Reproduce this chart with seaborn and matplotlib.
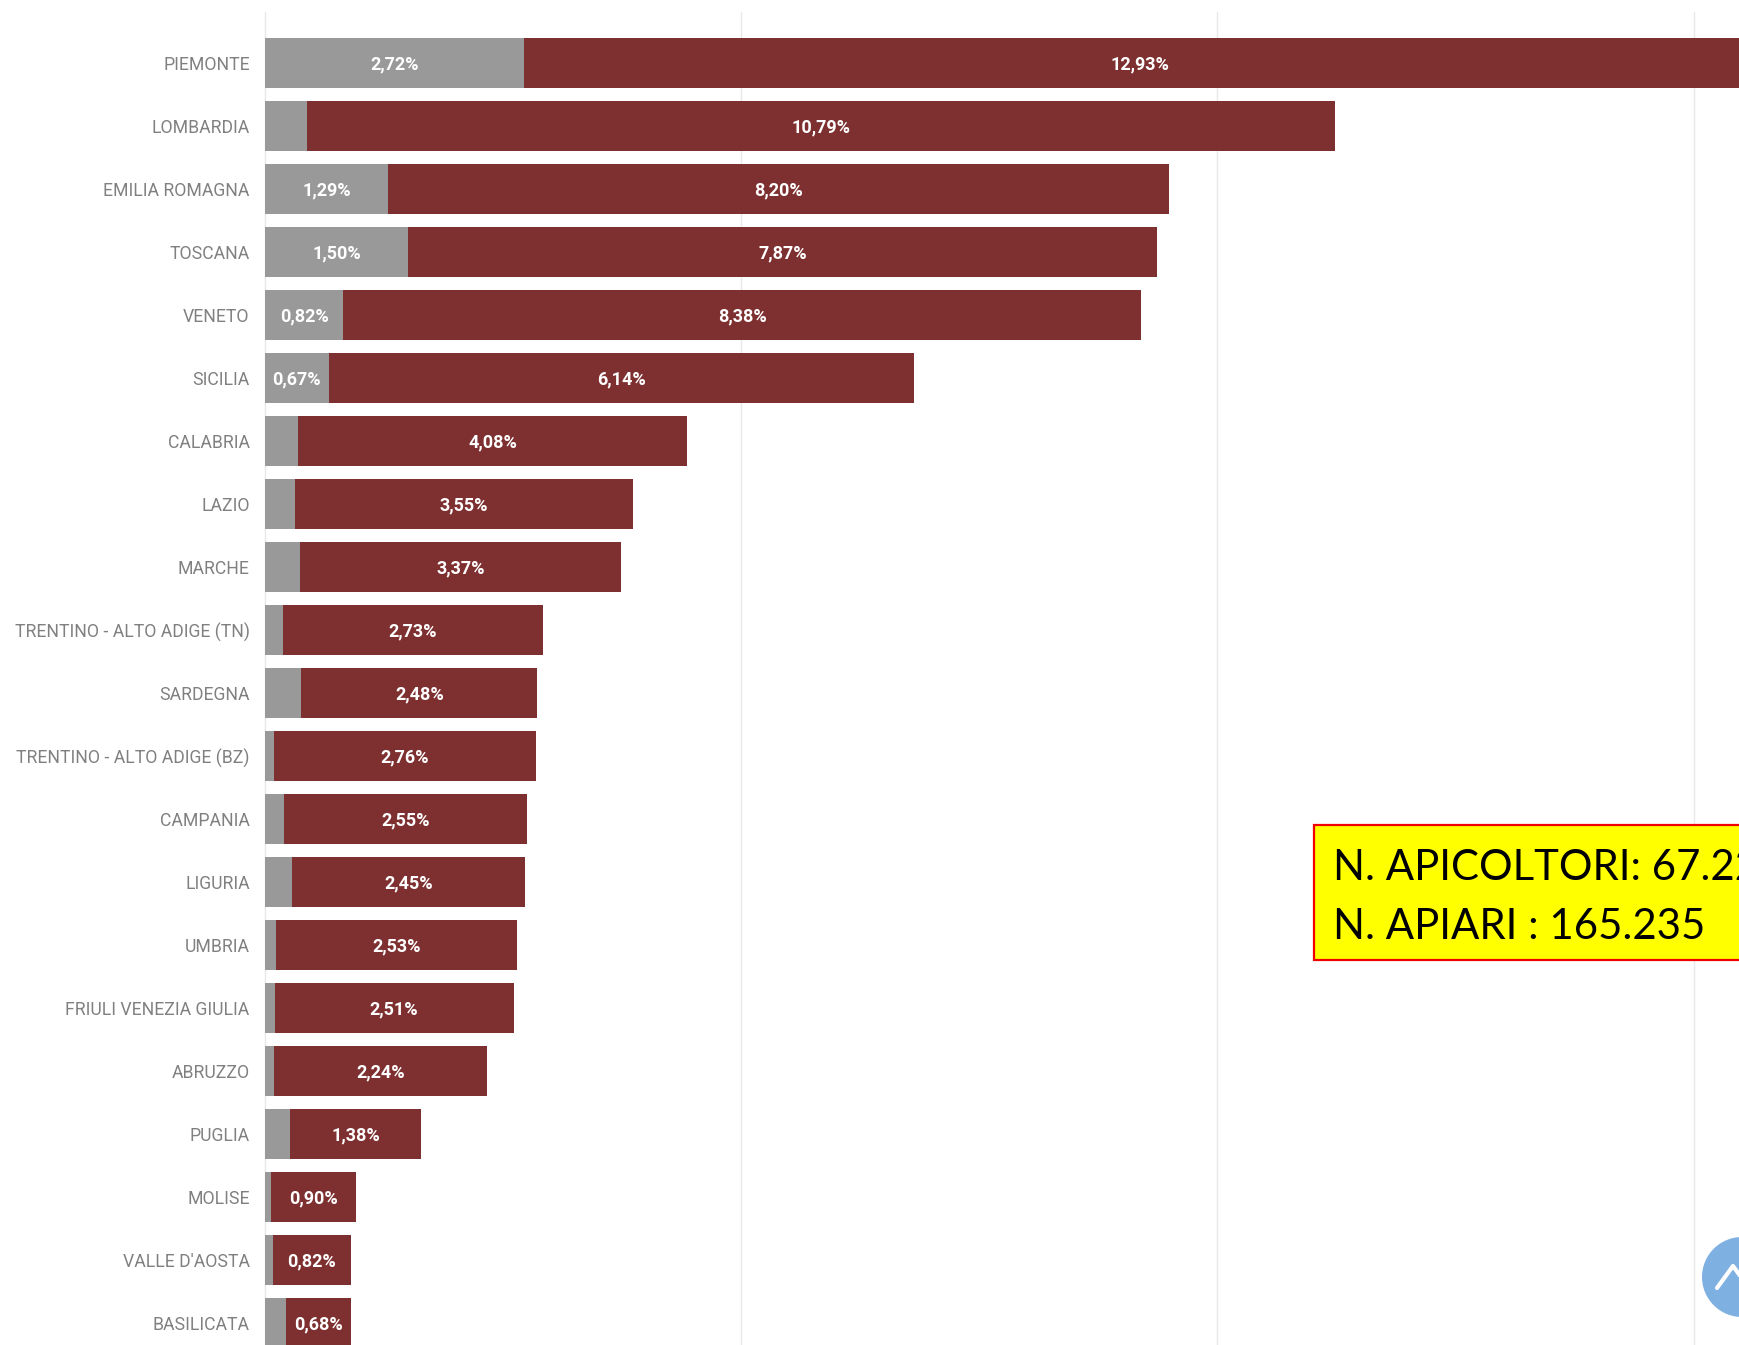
import matplotlib
matplotlib.use("Agg")
import matplotlib.pyplot as plt
from matplotlib.patches import Rectangle, Circle
import pandas as pd
import seaborn as sns

W, H = 1740, 1345

regioni = ["PIEMONTE", "LOMBARDIA", "EMILIA ROMAGNA", "TOSCANA", "VENETO", "SICILIA",
           "CALABRIA", "LAZIO", "MARCHE", "TRENTINO - ALTO ADIGE (TN)", "SARDEGNA",
           "TRENTINO - ALTO ADIGE (BZ)", "CAMPANIA", "LIGURIA", "UMBRIA",
           "FRIULI VENEZIA GIULIA", "ABRUZZO", "PUGLIA", "MOLISE", "VALLE D'AOSTA", "BASILICATA"]
rosso = [12.93, 10.79, 8.20, 7.87, 8.38, 6.14, 4.08, 3.55, 3.37, 2.73, 2.48,
         2.76, 2.55, 2.45, 2.53, 2.51, 2.24, 1.38, 0.90, 0.82, 0.68]
grigio = [2.72, 0.44, 1.29, 1.50, 0.82, 0.67, 0.35, 0.31, 0.37, 0.19, 0.38,
          0.09, 0.20, 0.28, 0.12, 0.10, 0.09, 0.26, 0.06, 0.08, 0.22]
griglia = [0, 5, 10, 15]
box_righe = ["N. APICOLTORI: 67.22", "N. APIARI : 165.235"]

COL_ROSSO = "#7e3030"
COL_GRIGIO = "#999999"

df = pd.DataFrame({"regione": regioni, "grigio": grigio, "rosso": rosso})
df["totale"] = df["grigio"] + df["rosso"]

sns.set_theme(style="white")
plt.rcParams["font.family"] = ["Roboto", "DejaVu Sans"]

fig = plt.figure(figsize=(W / 100, H / 100), dpi=100, facecolor="white")
# axes starts where the bars start, zero at x=265
ax = fig.add_axes([265 / W, 0, (W - 265) / W, (H - 12) / H])

# stacked: full length in red first, grey on top of it
sns.barplot(data=df, y="regione", x="totale", color=COL_ROSSO, saturation=1,
            width=0.79, orient="y", ax=ax, zorder=3, linewidth=0, edgecolor="none")
sns.barplot(data=df, y="regione", x="grigio", color=COL_GRIGIO, saturation=1,
            width=0.79, orient="y", ax=ax, zorder=3, linewidth=0, edgecolor="none")

# 95.25 px per point
ax.set_xlim(0, (W - 265) / 95.25)
ax.set_ylim((H - 63) / 63, -51 / 63)

ax.set_xlabel("")
ax.set_ylabel("")
ax.set_xticks(griglia)
ax.set_xticklabels([])
ax.tick_params(axis="both", length=0)
ax.tick_params(axis="y", pad=11, labelsize=12.7, labelcolor="#808080")
for v in griglia:
    ax.axvline(v, color="#e8e8e8", lw=1, zorder=1, clip_on=False)
sns.despine(ax=ax, left=True, bottom=True)

for i, row in df.iterrows():
    ax.text(row["grigio"] + row["rosso"] / 2, i + 0.03, f"{row['rosso']:.2f}%".replace(".", ","),
            color="white", ha="center", va="center", fontsize=13, fontweight="bold", zorder=5)
    if row["grigio"] >= 0.6:
        ax.text(row["grigio"] / 2, i + 0.03, f"{row['grigio']:.2f}%".replace(".", ","),
                color="white", ha="center", va="center", fontsize=13, fontweight="bold", zorder=5)


def px(x, y):
    return x / W, 1 - y / H


# yellow note, runs off the right edge like in the screenshot
x0, y1 = px(1314, 960)
x1, y0 = px(W + 10, 825)
fig.add_artist(Rectangle((x0, y1), x1 - x0, y0 - y1, transform=fig.transFigure,
                         facecolor="#ffff00", edgecolor="#f00000", lw=1.6, zorder=6))
for riga, base in zip(box_righe, [880, 939]):
    tx, ty = px(1333, base)
    fig.text(tx, ty, riga, fontsize=30.2, family="Lato", color="black", va="baseline", zorder=7)

# scroll-to-top button cut by the edge
fig.add_artist(Circle((1742, H - 1277), 40, transform=None, facecolor="#7fb0e2",
                      edgecolor="none", zorder=6))
fig.add_artist(plt.Line2D([1717, 1733, 1749], [H - 1288, H - 1266, H - 1288], transform=None,
                          color="white", lw=3, zorder=7))

fig.savefig("out.png", dpi=100)
